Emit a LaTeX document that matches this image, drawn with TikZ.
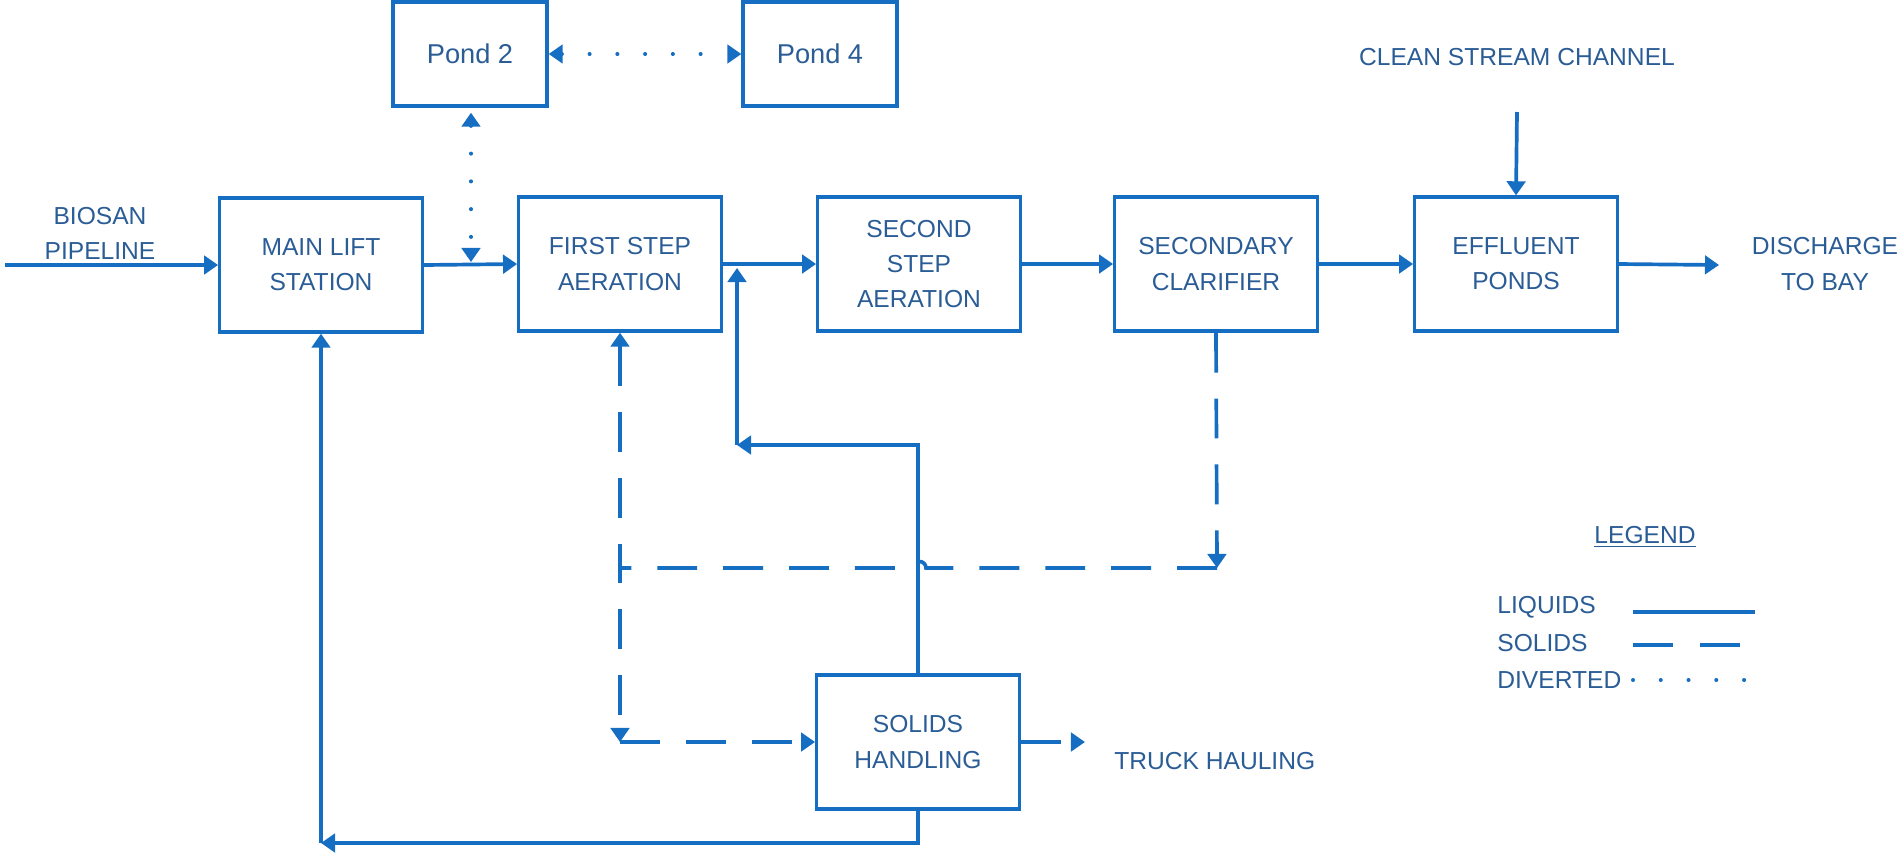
\documentclass[tikz,border=0pt]{standalone}
\usepackage{fontspec}
\setmainfont{Liberation Sans}
\usepackage{xcolor}
\usepackage{tikz}
\usetikzlibrary{arrows.meta}
\definecolor{lineblue}{RGB}{22,110,194}
\definecolor{textblue}{RGB}{42,92,150}

\begin{document}
\begin{tikzpicture}[x=0.02cm, y=-0.02cm, font=\fontsize{14}{20}\selectfont, text=textblue, >={Triangle[length=8pt,width=10.5pt]}]
    % Define styles
    \tikzstyle{unit} = [rectangle, draw=lineblue, line width=1.9pt, minimum width=4.05cm, minimum height=2.68cm, align=center, inner sep=0pt]
    \tikzstyle{pond} = [rectangle, draw=lineblue, line width=1.9pt, minimum width=3.08cm, minimum height=2.08cm, font=\fontsize{15.5}{20}\selectfont]
    \tikzstyle{tag} = [align=center, inner sep=0pt]
    \tikzstyle{liquidflow} = [draw=lineblue, line width=2.1pt]
    \tikzstyle{solidsflow} = [draw=lineblue, line width=2.1pt, dash pattern=on 22.7pt off 14.8pt]
    \tikzstyle{divertflow} = [draw=lineblue, line width=2.3pt, line cap=round, dash pattern=on 0pt off 15.8pt]

    \useasboundingbox (0,0) rectangle (1903,860);

    % Process units
    \node [unit] (main_lift) at (321,265) {MAIN LIFT\\STATION};
    \node [unit] (first_step) at (620,264) {FIRST STEP\\AERATION};
    \node [unit] (second_step) at (919,264) {SECOND\\STEP\\AERATION};
    \node [unit] (clarifier) at (1216,264) {SECONDARY\\CLARIFIER};
    \node [unit] (effluent) at (1516,264) {EFFLUENT\\PONDS};
    \node [unit] (solids) at (918,742) {SOLIDS\\HANDLING};

    % Diversion ponds
    \node [pond] (pond_two) at (470,54) {Pond 2};
    \node [pond] (pond_four) at (820,54) {Pond 4};

    % Inlets and outlets
    \node [tag] (biosan) at (100,233) {BIOSAN\\PIPELINE};
    \node [tag] (clean_stream) at (1517,57) {CLEAN STREAM CHANNEL};
    \node [tag] (discharge) at (1825,264) {DISCHARGE\\TO BAY};
    \node [tag, anchor=west] (truck) at (1114,761) {TRUCK HAULING};

    \coordinate (pipe_in) at (5,265);
    \coordinate (stream_in) at (1517,112);
    \coordinate (bay_out) at (1719,265);
    \coordinate (truck_out) at (1085,742);
    \coordinate (divert_tap) at (471,262);
    \coordinate (return_turn) at (737,445);
    \coordinate (return_in) at (737,268);
    \coordinate (lift_turn) at (321,843);
    \coordinate (clar_turn) at (1217,568);
    \coordinate (dash_join) at (620,568);
    \coordinate (dash_turn) at (620,742);

    % Liquids
    \draw [liquidflow, ->] (pipe_in) -- (main_lift.west);
    \draw [liquidflow, ->] (main_lift.east) -- (first_step.west);
    \draw [liquidflow, ->] (first_step.east) -- (second_step.west);
    \draw [liquidflow, ->] (second_step.east) -- (clarifier.west);
    \draw [liquidflow, ->] (clarifier.east) -- (effluent.west);
    \draw [liquidflow, ->] (effluent.east) -- (bay_out);
    \draw [liquidflow, ->] (stream_in) -- (effluent.north);
    \draw [liquidflow, ->] (solids.north) |- (return_turn);
    \draw [liquidflow, ->] (return_turn) -- (return_in);
    \draw [liquidflow, ->] (solids.south) |- (lift_turn);
    \draw [liquidflow, ->] (lift_turn) -- (main_lift.south);

    % Solids
    \draw [solidsflow, ->] (clarifier.south) -- (clar_turn);
    \draw [solidsflow] (clar_turn) -- (926,568) arc[start angle=0, end angle=180, radius=0.13cm] -- (dash_join);
    \draw [solidsflow, <->] (first_step.south) -- (dash_turn);
    \draw [solidsflow, ->] (dash_turn) -- (solids.west);
    \draw [solidsflow, ->] (solids.east) -- (truck_out);

    % Diverted
    \draw [divertflow, <->] (pond_two.east) -- (pond_four.west);
    \draw [divertflow, <->] ([yshift=-0.1cm]pond_two.south -| divert_tap) -- (divert_tap);

    % Legend
    \node [tag] (legend) at (1645,537) {\underline{LEGEND}};
    \node [tag, anchor=west] (leg_liquids) at (1497,607) {LIQUIDS};
    \node [tag, anchor=west] (leg_solids) at (1497,643) {SOLIDS};
    \node [tag, anchor=west] (leg_diverted) at (1497,680) {DIVERTED};
    \draw [liquidflow] (1633,612) -- (1755,612);
    \draw [solidsflow, dash pattern=on 22.7pt off 15.3pt] (1633,645) -- (1740,645);
    \draw [divertflow] (1633,680) -- (1746,680);
\end{tikzpicture}
\end{document}
